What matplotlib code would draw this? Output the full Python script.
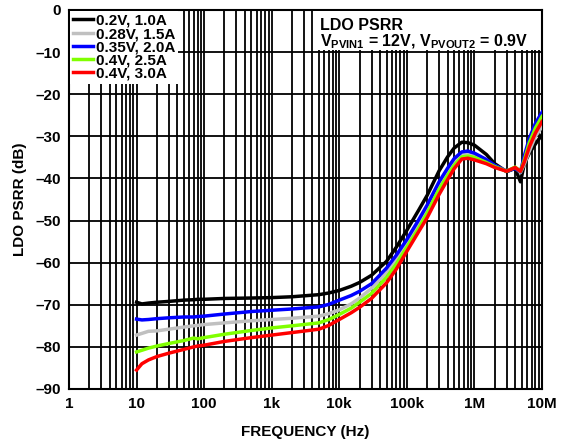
import matplotlib
matplotlib.use('Agg')
import matplotlib.pyplot as plt
from matplotlib.ticker import FixedLocator, NullFormatter
from matplotlib.patches import Rectangle

plt.rcParams['font.family'] = ['Liberation Sans', 'DejaVu Sans']
plt.rcParams['font.weight'] = 'bold'
plt.rcParams['mathtext.fontset'] = 'custom'
plt.rcParams['mathtext.rm'] = 'Liberation Sans:bold'
plt.rcParams['mathtext.bf'] = 'Liberation Sans:bold'

# frequency points (Hz)
freq = [10, 12, 15, 20, 30, 50, 70, 80, 100, 200, 500,
        1e3, 2e3, 5e3, 7e3, 1e4, 1.5e4, 2e4, 3e4, 5e4, 7e4,
        1e5, 1.5e5, 2e5, 3e5, 4e5, 5e5, 6.5e5, 8e5,
        1e6, 1.5e6, 2e6, 3e6, 4e6, 4.8e6, 5.5e6, 6.5e6, 8e6, 1e7]

# PSRR (dB) per load condition
psrr_02v = [-69.4, -69.8, -69.6, -69.4, -69.2, -68.9, -68.8, -68.7, -68.7, -68.5, -68.4,
            -68.3, -68.1, -67.6, -67.2, -66.6, -65.6, -64.7, -63.0, -59.7, -56.3,
            -52.3, -47.5, -44.0, -38.2, -34.9, -32.8, -31.4, -31.5,
            -32.1, -34.3, -36.5, -38.4, -37.6, -40.8, -36.4, -34.0, -31.8, -29.6]
psrr_028v = [-77.2, -76.8, -76.3, -76.2, -75.8, -75.3, -75.0, -74.9, -74.7, -74.3, -73.8,
             -73.5, -73.2, -72.7, -72.1, -71.2, -69.8, -68.4, -66.1, -62.4, -59.3,
             -55.5, -51.0, -47.4, -41.8, -38.6, -36.2, -34.4, -34.3,
             -34.6, -35.9, -37.0, -38.2, -37.4, -38.6, -36.5, -33.5, -30.0, -27.7]
psrr_035v = [-73.4, -73.6, -73.5, -73.3, -73.1, -72.9, -72.9, -72.8, -72.7, -72.2, -71.6,
             -71.3, -71.0, -70.5, -69.9, -68.9, -67.8, -66.8, -65.0, -61.3, -58.2,
             -54.5, -49.8, -46.3, -40.8, -37.6, -35.3, -33.7, -33.5,
             -34.0, -35.5, -36.9, -38.3, -37.6, -38.4, -34.5, -30.5, -26.9, -24.3]
psrr_04v_25a = [-81.2, -80.8, -80.3, -79.8, -79.2, -78.5, -77.9, -78.1, -77.8, -77.0, -76.1,
                -75.5, -75.0, -74.3, -73.5, -72.3, -70.8, -69.4, -67.3, -63.5, -60.3,
                -56.3, -51.8, -48.2, -42.6, -39.3, -36.9, -34.9, -34.7,
                -35.0, -36.2, -37.2, -38.3, -37.3, -38.3, -35.5, -31.5, -28.0, -25.3]
psrr_04v_30a = [-85.5, -84.0, -83.1, -82.3, -81.5, -80.6, -80.0, -79.8, -79.6, -78.7, -77.8,
                -77.2, -76.6, -75.8, -74.9, -73.5, -71.9, -70.6, -68.5, -64.8, -61.5,
                -57.3, -52.6, -49.3, -43.8, -40.3, -37.7, -35.4, -35.2,
                -35.6, -36.5, -37.4, -38.3, -37.4, -38.3, -36.0, -32.5, -29.2, -26.5]

labels = ['0.2V, 1.0A', '0.28V, 1.5A', '0.35V, 2.0A', '0.4V, 2.5A', '0.4V, 3.0A']
colors = ['black', '#c0c0c0', 'blue', '#80ff00', 'red']
series = [psrr_02v, psrr_028v, psrr_035v, psrr_04v_25a, psrr_04v_30a]

x_ticks = [1, 10, 100, 1e3, 1e4, 1e5, 1e6, 1e7]
x_ticklabels = ['1', '10', '100', '1k', '10k', '100k', '1M', '10M']
y_ticks = list(range(-90, 1, 10))

fig = plt.figure(figsize=(5.64, 4.44), dpi=100)
ax = fig.add_axes([0.1223, 0.1239, 0.8387, 0.8536])

for vals, lab, col in zip(series, labels, colors):
    ax.plot(freq, vals, color=col, lw=2.5, label=lab, zorder=3)

ax.set_xscale('log')
ax.set_xlim(1, 1e7)
ax.set_ylim(-90, 0)

# minor grid at 2..9 in every decade
minors = [m * 10 ** d for d in range(0, 7) for m in range(2, 10)]
ax.xaxis.set_minor_locator(FixedLocator(minors))
ax.xaxis.set_minor_formatter(NullFormatter())
ax.set_xticks(x_ticks)
ax.set_xticklabels(x_ticklabels)
ax.set_yticks(y_ticks)
ax.set_yticklabels([str(v).replace('-', '\u2013') for v in y_ticks])

ax.grid(True, which='both', axis='x', color='black', lw=1.3)
ax.grid(True, which='major', axis='y', color='black', lw=1.3)
ax.tick_params(which='both', length=0, labelsize=11, pad=6)
for sp in ax.spines.values():
    sp.set_linewidth(1.5)

ax.set_xlabel('FREQUENCY (Hz)', fontsize=11, fontweight='bold', labelpad=10)
ax.set_ylabel('LDO PSRR (dB)', fontsize=11, fontweight='bold', labelpad=6)

leg = ax.legend(loc='upper left', bbox_to_anchor=(0.0, 1.0), borderaxespad=0.05,
                frameon=True, fancybox=False, edgecolor='white', framealpha=1,
                fontsize=11, handlelength=1.3, handletextpad=0.2,
                labelspacing=-0.05, borderpad=0.2)
leg.get_frame().set_linewidth(0)

# white box behind the condition note
ax.add_patch(Rectangle((0.516, 0.894), 0.48, 0.104, transform=ax.transAxes,
                       facecolor='white', edgecolor='none', zorder=4))
note = 'LDO PSRR\n' + r'V$_{\mathbf{PVIN1}}$ = 12V, V$_{\mathbf{PVOUT2}}$ = 0.9V'
ax.text(0.53, 0.978, note, transform=ax.transAxes, fontsize=11.5,
        fontweight='bold', va='top', ha='left', linespacing=0.95, zorder=5)

fig.savefig('out.png', dpi=100)
